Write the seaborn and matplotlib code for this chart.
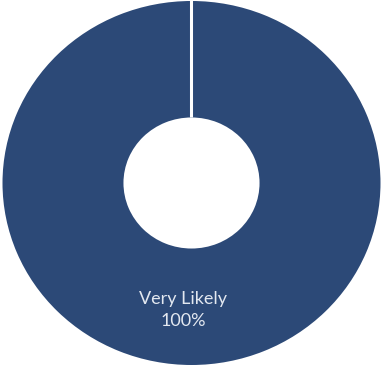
import matplotlib
matplotlib.use("Agg")
import matplotlib.pyplot as plt
import numpy as np
import seaborn as sns

categories = ["Very Likely"]
values = [100]
colors = ["#2C4977"]

sns.set_theme(style="white")
plt.rcParams["font.family"] = ["Lato", "DejaVu Sans"]

fig = plt.figure(figsize=(3.82, 3.68), dpi=100)
ax = fig.add_axes([0, 0, 1, 1])

outer_r = 1.0
inner_r = 0.36
start = 90

wedges = ax.pie(
    values,
    colors=colors,
    startangle=start,
    counterclock=False,
    radius=outer_r,
    wedgeprops=dict(width=outer_r - inner_r, edgecolor="none", linewidth=0),
)[0]

# white separator at each wedge boundary
for w in wedges:
    a = np.deg2rad(w.theta2)
    ax.plot([inner_r * np.cos(a), outer_r * np.cos(a) * 1.02],
            [inner_r * np.sin(a), outer_r * np.sin(a) * 1.02],
            color="white", lw=2.2, solid_capstyle="butt", zorder=3)

# category name and share, inside the ring below the hole
total = sum(values)
for cat, v in zip(categories, values):
    ax.text(-0.045, -0.698, f"{cat}\n{v / total * 100:.0f}%", ha="center", va="center",
            color="#E3E8F0", fontsize=13, linespacing=1.5, zorder=4)

# slightly wider than tall, as in the exported figure
rx, ry = 189.0, 182.0
cx, cy = 191.5, 183.0
ax.set_xlim(-cx / rx, (382 - cx) / rx)
ax.set_ylim(-(368 - cy) / ry, cy / ry)
ax.set_aspect("auto")
ax.axis("off")

fig.savefig("out.png", dpi=100)
